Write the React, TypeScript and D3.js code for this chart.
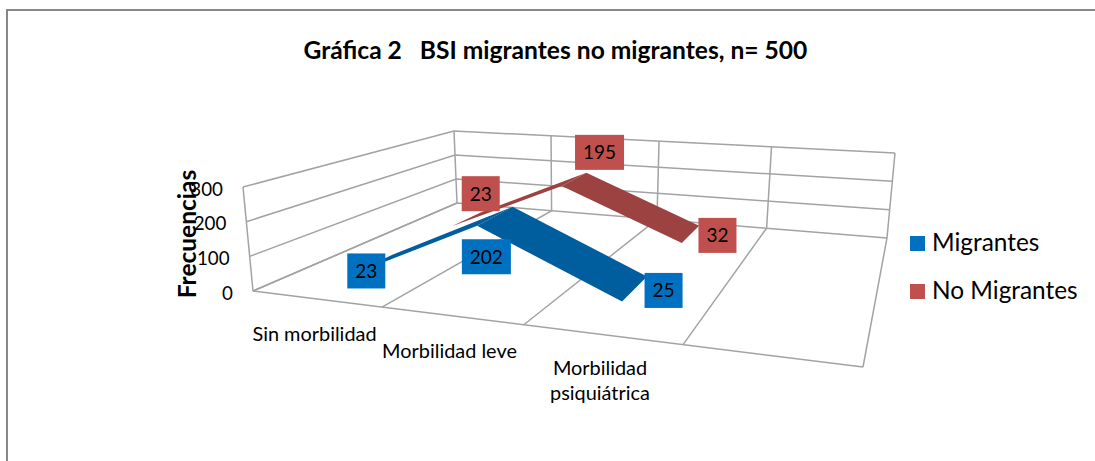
import React from 'react';
import * as d3 from 'd3';

const categories = ['Sin morbilidad', 'Morbilidad leve', 'Morbilidad psiquiátrica', ' '];
const seriesNames = ['Migrantes', 'No Migrantes'];
const migrantes = [23, 202, 25];
const noMigrantes = [23, 195, 32];
const yTicks = [0, 100, 200, 300];

const seriesValues = [migrantes, noMigrantes];
const labelColors = ['#0070c0', '#c0504d'];
const ribbonColors = ['#055d9e', '#9c4341'];
// depth of each ribbon on the floor, 0 = front edge, 1 = back wall
const ribbonDepth = [[0.17, 0.4], [0.72, 0.88]];
// the ribbons sit a little higher than the box says from the second point on
const ribbonLift = [[0, 6, 6], [0, 2.5, 2.5]];

const WIDTH = 1095;
const HEIGHT = 461;
const gridColor = '#a3a3a3';
const fontFamily = 'Lato, Carlito, sans-serif';

// where the four category slots end along the front and back edge of the box
const slots = [0, 0.25, 0.5, 0.75, 1];
const frontX = d3.scaleLinear().domain(slots).range([0, 0.2115, 0.444, 0.705, 1]);
const backX = d3.scaleLinear().domain(slots).range([0, 0.22, 0.465, 0.72, 1]);

// box corners: left and right end of the front and back edges
const floorFront = [[253, 291], [863, 367]];
const floorBack = [[457, 203], [887, 238]];
const topFront = [[243, 187], [875, 262]];
const topBack = [[454, 131], [895, 153]];

const along = (e: number[][], t: number) => [
  e[0][0] + (e[1][0] - e[0][0]) * t,
  e[0][1] + (e[1][1] - e[0][1]) * t,
];
const mix = (a: number[], b: number[], t: number) => [a[0] + (b[0] - a[0]) * t, a[1] + (b[1] - a[1]) * t];

const xBand = d3.scaleBand().domain(categories).range([0, 1]);
const yScale = d3.scaleLinear().domain([0, 300]).range([0, 1]);

const project = (u: number, w: number, value: number) => {
  const f = mix(along(floorFront, frontX(u)), along(floorBack, backX(u)), w);
  const t = mix(along(topFront, frontX(u)), along(topBack, backX(u)), w);
  return mix(f, t, yScale(value));
};

const line = d3.line();
const centre = (i: number) => (xBand(categories[i]) as number) + xBand.bandwidth() / 2;

// label box centre relative to the ribbon point
const labelOffsets = [
  [[-4, 5.5], [-8.5, 34.5], [29, -4.5]],
  [[14, -25.5], [25.5, -29.5], [27, -1.5]],
];
const labelWidth = (v: number) => (v >= 100 ? 49 : 38);

export default function App() {
  return (
    <svg width={WIDTH} height={HEIGHT} style={{ position: 'absolute', left: 0, top: 0, background: '#fff' }} fontFamily={fontFamily}>
      <defs>
        <filter id="soft" x="-5%" y="-5%" width="110%" height="110%">
          <feGaussianBlur stdDeviation="0.45" />
        </filter>
      </defs>
      <path d={`M7,${HEIGHT}V10H${WIDTH}`} fill="none" stroke="#878787" strokeWidth={2} />
      <text x={555.5} y={59} textAnchor="middle" fontSize={24.6} fontWeight={700} fill="#000" xmlSpace="preserve">
        Gráfica 2   BSI migrantes no migrantes, n= 500
      </text>

      <g fill="none" stroke={gridColor} strokeWidth={1.5} filter="url(#soft)">
        {yTicks.map(v => (
          <path key={v} d={line([project(0, 0, v), project(0, 1, v), project(1, 1, v)] as [number, number][]) as string} />
        ))}
        {slots.map(e => (
          <path key={e} d={line([project(e, 0, 0), project(e, 1, 0), project(e, 1, 300)] as [number, number][]) as string} />
        ))}
        <path d={line([project(0, 0, 0), project(1, 0, 0)] as [number, number][]) as string} />
        <path d={line([project(0, 0, 0), project(0, 0, 300)] as [number, number][]) as string} />
      </g>

      <g filter="url(#soft)">
        {[1, 0].map(s => seriesValues[s].slice(1).map((v, i) => {
          const [w0, w1] = ribbonDepth[s];
          const a = centre(i), b = centre(i + 1), prev = seriesValues[s][i];
          const lifted = (p: number[], k: number) => [p[0], p[1] - ribbonLift[s][k]];
          const pts = [
            lifted(project(a, w0, prev), i),
            lifted(project(a, w1, prev), i),
            lifted(project(b, w1, v), i + 1),
            lifted(project(b, w0, v), i + 1),
          ];
          return <path key={`${s}-${i}`} d={`${line(pts as [number, number][])}Z`} fill={ribbonColors[s]} />;
        }))}
      </g>

      {yTicks.map(v => {
        const p = project(0, 0, v);
        return (
          <text key={v} x={p[0] - 20} y={p[1] + 8.5} textAnchor="end" fontSize={18.8} fill="#000">{v}</text>
        );
      })}

      <text transform="translate(196,234) rotate(-90)" textAnchor="middle" fontSize={24.5} fontWeight={700} fill="#000">Frecuencias</text>

      <text x={314.5} y={341} textAnchor="middle" fontSize={19.9} fill="#000">Sin morbilidad</text>
      <text x={449.5} y={358} textAnchor="middle" fontSize={19.9} fill="#000">Morbilidad leve</text>
      <text textAnchor="middle" fontSize={19.9} fill="#000">
        <tspan x={600} y={375}>Morbilidad</tspan>
        <tspan x={600} y={400}>psiquiátrica</tspan>
      </text>

      {seriesValues.map((vals, s) => vals.map((v, i) => {
        const p = project(centre(i), (ribbonDepth[s][0] + ribbonDepth[s][1]) / 2, v);
        const [ox, oy] = labelOffsets[s][i];
        const cx = p[0] + ox, cy = p[1] + oy, w = labelWidth(v);
        return (
          <g key={`${s}-${i}`}>
            <rect x={cx - w / 2} y={cy - 17.5} width={w} height={35} fill={labelColors[s]} />
            <text x={cx} y={cy + 7} textAnchor="middle" fontSize={19} fill="#000">{v}</text>
          </g>
        );
      }))}

      {seriesNames.map((name, s) => (
        <g key={name}>
          <rect x={910} y={236 + s * 48} width={15} height={15} fill={labelColors[s]} />
          <text x={932} y={250.5 + s * 48.5} fontSize={24.4} fill="#000">{name}</text>
        </g>
      ))}
    </svg>
  );
}
